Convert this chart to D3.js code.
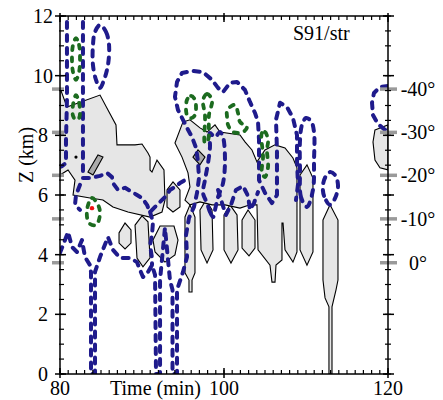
<!DOCTYPE html>
<html><head><meta charset="utf-8">
<script src="https://cdn.jsdelivr.net/npm/d3@7"></script>
<style>
body{margin:0;background:#fff}
svg{display:block}
</style>
</head><body><svg id="c" width="443" height="400" font-family="'Liberation Serif', 'DejaVu Serif', 'Times New Roman', serif"></svg>
<script>
// ---------- axis / label data ----------
const xMajorTicks = [80, 100, 120];
const xMinorTicks = d3.range(80, 121, 1);
const yMajorTicks = [0, 2, 4, 6, 8, 10, 12];
const yMinorTicks = d3.range(0, 12.01, 0.5);
const tempLabels = ["-40°", "-30°", "-20°", "-10°", "0°"];
const tempHeights = [9.55, 8.1, 6.66, 5.2, 3.73];
const panelLabel = "S91/str";

// ---------- gray (filled) regions, [time (min), Z (km)] ----------
const grayLeft = [[80,9.59],[80.85,8.95],[84.88,9.35],[85.85,8.85],[86.83,8.35],[86.95,7.68],[89.15,7.68],[90.0,7.71],[90.73,7.41],[90.98,7.27],[90.98,6.84],[91.22,6.77],[91.83,7.17],[92.68,6.84],[92.80,5.83],[92.44,5.43],[90.98,5.26],[88.29,5.43],[86.46,5.60],[85.24,5.83],[83.66,5.90],[81.59,6.0],[81.83,6.50],[80.98,6.84],[80,6.67]];
const grayRight = [[95.0,8.45],[95.85,8.52],[97.07,8.25],[97.93,8.11],[98.90,8.35],[99.51,8.11],[101.95,8.01],[102.56,7.78],[103.41,7.51],[104.02,7.11],[105.0,7.51],[106.22,7.68],[107.44,7.58],[108.41,7.24],[108.90,6.91],[108.90,4.09],[108.41,3.75],[107.44,4.16],[107.20,5.06],[107.07,5.06],[107.07,3.82],[106.34,3.65],[106.22,3.08],[105.85,3.08],[105.61,3.65],[104.15,4.16],[104.02,5.67],[103.17,5.67],[101.95,5.56],[100.12,5.67],[98.54,5.67],[97.07,5.77],[95.85,5.67],[95.24,5.83],[95.85,6.27],[95.61,6.74],[94.88,7.27],[94.02,7.74]];
const grayCells = [
  [[87.20,4.73],[87.93,5.06],[88.66,4.83],[88.66,4.39],[87.93,4.19],[87.20,4.39]],
  [[89.15,4.99],[90.0,5.30],[90.73,5.10],[90.98,3.89],[90.12,3.59],[89.39,3.89]],
  [[91.34,4.49],[92.20,4.96],[93.90,4.96],[94.39,4.49],[94.02,3.99],[92.80,3.75],[91.59,4.09]],
  [[93.05,6.17],[93.78,6.44],[94.63,6.17],[94.63,5.60],[93.78,5.43],[93.05,5.60]],
  [[95.24,5.26],[95.85,5.67],[96.46,5.26],[96.46,3.39],[96.10,3.15],[96.10,2.75],[95.73,2.75],[95.73,3.15],[95.24,3.39]],
  [[97.07,5.50],[97.80,5.83],[98.54,5.50],[98.66,4.16],[97.93,3.72],[97.20,4.16]],
  [[100.0,5.33],[100.73,5.67],[101.59,5.33],[101.71,4.16],[100.85,3.72],[100.0,4.16]],
  [[102.20,5.16],[102.93,5.50],[103.78,5.16],[103.78,4.22],[103.05,3.96],[102.20,4.22]],
  [[109.27,6.67],[110.12,7.01],[110.85,6.57],[110.85,4.09],[110.12,3.65],[109.27,4.16]],
  [[112.07,5.16],[112.93,5.67],[113.90,5.16],[113.90,3.15],[113.66,2.82],[113.17,2.25],[113.17,0],[112.80,0],[112.80,2.25],[112.32,2.55],[112.07,3.15]],
  [[118.41,8.18],[120,8.35],[120,6.84],[119.02,6.91],[118.41,7.17],[118.17,7.78]]
];
const darkCells = [
  [[83.41,6.77],[84.63,7.34],[85.24,7.27],[84.02,6.67]],
  [[96.22,7.27],[96.83,7.51],[97.68,7.27],[97.07,7.01]]
];
const blackDots = [[81.95,7.27]];
const redDots = [[83.90,5.56]];

// ---------- blue dashed contours ----------
const blueOpen = [
  [[80.85,11.80],[80.85,9.19],[80.73,7.84],[80.73,7.07],[80.24,6.97],[80,6.94]],
  [[82.80,11.80],[82.80,9.19],[82.80,6.57],[83.66,6.57],[84.88,6.64],[85.73,6.74],[86.34,6.60],[86.46,6.40],[87.07,6.17],[87.93,6.24],[88.78,6.10],[89.39,6.0],[90.0,5.90],[90.61,5.67],[90.98,5.43],[91.59,5.60],[92.20,5.77],[93.05,6.0],[93.41,6.17],[94.02,6.27],[94.63,6.40],[95.24,6.50]],
  [[82.44,6.34],[81.95,6.0],[81.83,5.67],[82.44,5.50]],
  [[80,4.06],[80.61,4.49],[80.98,4.76],[81.46,4.26],[82.07,4.09],[82.68,4.49],[83.05,3.92],[83.66,3.65],[83.78,3.42],[83.78,0],[84.27,0],[84.27,3.42],[84.88,3.92],[85.85,4.59],[86.46,4.16],[87.32,3.89],[88.54,3.89],[89.39,3.75],[89.76,3.49],[90.12,3.25],[90.73,3.42],[91.22,3.65],[91.59,3.32],[91.71,0],[92.20,0],[92.20,3.15],[92.80,4.90],[93.41,3.15],[93.72,2.82],[93.72,0],[94.27,0],[94.27,2.82],[95.0,3.42],[95.49,3.92],[95.37,4.66],[95.73,5.23],[96.34,5.60],[96.71,6.07],[96.95,6.57],[96.83,7.11],[96.59,7.58],[96.10,7.94],[95.49,8.25],[95.0,8.52],[94.39,8.85],[94.02,9.29],[94.27,9.79],[94.88,10.09],[96.10,10.16],[97.44,10.12],[98.54,9.86],[99.27,9.59],[99.88,9.45],[100.73,9.76],[101.59,9.79],[102.56,9.52],[103.17,9.12],[103.78,8.75],[104.15,8.45],[104.27,7.84],[104.27,6.50],[105.0,6.07],[105.85,5.73],[106.46,6.0],[106.46,7.51],[106.34,8.52],[106.83,9.09],[107.68,8.95],[108.41,8.58],[108.90,8.01],[108.90,7.17],[109.02,6.34],[108.78,5.83]],
  [[90.98,5.43],[91.34,5.10],[91.22,4.66],[90.98,4.32],[91.22,3.89],[91.22,3.65]],
  [[99.27,6.17],[99.76,5.73],[100.24,5.33],[100.85,5.67],[101.46,6.17],[102.32,6.30],[102.93,5.97],[103.17,5.50],[103.66,5.73],[104.15,6.10]],
  [[120,9.65],[119.02,9.62],[118.29,9.42],[118.05,9.09],[118.17,8.68],[118.78,8.38],[119.51,8.21],[120,8.15]]
];
const blueClosed = [
  [[84.88,11.70],[85.61,11.47],[85.98,11.03],[85.85,10.36],[85.37,9.86],[84.88,9.59],[84.39,9.86],[84.02,10.36],[84.02,11.03],[84.27,11.47]],
  [[98.66,5.26],[98.29,5.43],[97.93,5.73],[97.44,6.07],[97.68,6.50],[98.05,7.07],[98.29,7.61],[98.29,8.08],[98.90,7.94],[99.51,8.11],[99.88,7.94],[100.12,7.17],[99.88,6.40],[99.27,5.93],[98.90,5.50]],
  [[110.12,5.60],[109.39,5.93],[109.27,6.84],[109.27,7.84],[109.51,8.35],[110.0,8.58],[110.61,8.48],[110.98,8.11],[110.98,7.17],[110.85,6.17]],
  [[112.93,5.67],[112.20,5.97],[112.07,6.34],[112.44,6.64],[112.93,6.77],[113.54,6.67],[113.90,6.34],[113.66,5.97]]
];

// ---------- green dashed contours ----------
const greenClosed = [
  [[81.95,11.26],[82.32,11.03],[82.44,10.53],[82.32,10.12],[81.95,9.86],[81.59,10.12],[81.46,10.53],[81.59,11.03]],
  [[81.95,9.35],[82.32,9.09],[82.44,8.78],[82.32,8.58],[81.95,8.52],[81.59,8.65],[81.59,9.02]],
  [[83.29,5.50],[83.90,5.90],[84.63,5.67],[84.88,5.36],[84.39,4.99],[83.54,5.06]],
  [[95.49,9.19],[95.98,9.32],[96.46,9.19],[96.46,8.68],[95.98,8.58],[95.49,8.68]],
  [[97.44,9.19],[97.93,9.39],[98.54,9.19],[98.17,8.68],[98.05,7.84],[97.68,7.74],[97.68,8.68]],
  [[100.37,8.85],[100.73,8.95],[101.34,9.02],[101.71,8.75],[101.95,8.45],[102.80,8.28],[102.32,8.11],[101.10,8.11],[100.49,8.35],[100.37,8.62]],
  [[104.63,8.08],[105.0,8.11],[105.37,7.84],[105.24,7.51],[105.37,6.94],[105.0,6.60],[104.63,6.74],[104.76,7.27]]
];

// ---------- drawing ----------
const svg = d3.select("#c");
const x = d3.scaleLinear().domain([80, 120]).range([60, 388]);
const y = d3.scaleLinear().domain([0, 12]).range([374, 16]);
const openGen = d3.line().x(d => x(d[0])).y(d => y(d[1]));
const closedGen = d3.line().x(d => x(d[0])).y(d => y(d[1])).curve(d3.curveLinearClosed);
const smoothGen = d3.line().x(d => x(d[0])).y(d => y(d[1])).curve(d3.curveCatmullRomClosed.alpha(0.5));

svg.append("defs").append("clipPath").attr("id", "clip")
  .append("rect").attr("x", x(80)).attr("y", y(12)).attr("width", x(120) - x(80)).attr("height", y(0) - y(12));

const plot = svg.append("g").attr("clip-path", "url(#clip)");

const fillStyle = sel => sel.attr("fill", "#e6e6e6").attr("stroke", "#000").attr("stroke-width", 1.1).attr("stroke-linejoin", "miter");
plot.selectAll("path.cell").data(grayCells).join("path").attr("class", "cell").attr("d", closedGen).call(fillStyle);
plot.selectAll("path.main").data([grayLeft, grayRight]).join("path").attr("class", "main").attr("d", closedGen).call(fillStyle);
plot.selectAll("path.dark").data(darkCells).join("path").attr("class", "dark").attr("d", closedGen)
  .attr("fill", "#ababab").attr("stroke", "#000").attr("stroke-width", 1.1);
plot.selectAll("circle.bd").data(blackDots).join("circle").attr("class", "bd")
  .attr("cx", d => x(d[0])).attr("cy", d => y(d[1])).attr("r", 1.6).attr("fill", "#000");

const blueStyle = sel => sel.attr("fill", "none").attr("stroke", "#1f1b8c").attr("stroke-width", 4)
  .attr("stroke-dasharray", "6,7").attr("stroke-linecap", "round").attr("stroke-linejoin", "round");
plot.selectAll("path.bo").data(blueOpen).join("path").attr("class", "bo").attr("d", openGen).call(blueStyle);
plot.selectAll("path.bc").data(blueClosed).join("path").attr("class", "bc").attr("d", smoothGen).call(blueStyle);

plot.selectAll("path.gc").data(greenClosed).join("path").attr("class", "gc").attr("d", smoothGen)
  .attr("fill", "none").attr("stroke", "#1c6b1f").attr("stroke-width", 3.8)
  .attr("stroke-dasharray", "4,7").attr("stroke-linecap", "round").attr("stroke-linejoin", "round");

plot.selectAll("circle.rd").data(redDots).join("circle").attr("class", "rd")
  .attr("cx", d => x(d[0])).attr("cy", d => y(d[1])).attr("r", 2.2).attr("fill", "#ee1111");

// temperature markers (gray) on both sides
const marks = svg.append("g");
marks.selectAll("line.tl").data(tempHeights).join("line").attr("class", "tl")
  .attr("x1", x(80) - 8).attr("x2", x(80) + 4).attr("y1", d => y(d)).attr("y2", d => y(d))
  .attr("stroke", "#9a9a9a").attr("stroke-width", 3.5);
marks.selectAll("line.tr").data(tempHeights).join("line").attr("class", "tr")
  .attr("x1", x(120) - 8).attr("x2", x(120) + 9).attr("y1", d => y(d)).attr("y2", d => y(d))
  .attr("stroke", "#9a9a9a").attr("stroke-width", 3.5);
marks.selectAll("text.tt").data(tempLabels).join("text").attr("class", "tt")
  .attr("x", 418).attr("y", (d, i) => y(tempHeights[i]) + 7).attr("text-anchor", "middle")
  .attr("font-size", 20).attr("fill", "#000").text(d => d);

// frame
const ax = svg.append("g").attr("stroke", "#000").attr("fill", "none");
ax.append("rect").attr("x", x(80)).attr("y", y(12)).attr("width", x(120) - x(80)).attr("height", y(0) - y(12))
  .attr("stroke-width", 1.5);

// x ticks (bottom & top, inward), majors cross the axis
ax.selectAll("line.xbm").data(xMinorTicks).join("line").attr("class", "xbm")
  .attr("x1", d => x(d)).attr("x2", d => x(d)).attr("y1", y(0)).attr("y2", y(0) - 4).attr("stroke-width", 1.2);
ax.selectAll("line.xtm").data(xMinorTicks).join("line").attr("class", "xtm")
  .attr("x1", d => x(d)).attr("x2", d => x(d)).attr("y1", y(12)).attr("y2", y(12) + 4).attr("stroke-width", 1.2);
ax.selectAll("line.xbM").data(xMajorTicks).join("line").attr("class", "xbM")
  .attr("x1", d => x(d)).attr("x2", d => x(d)).attr("y1", y(0) + 4).attr("y2", y(0) - 6).attr("stroke-width", 1.5);
ax.selectAll("line.xtM").data(xMajorTicks).join("line").attr("class", "xtM")
  .attr("x1", d => x(d)).attr("x2", d => x(d)).attr("y1", y(12) - 3).attr("y2", y(12) + 6).attr("stroke-width", 1.5);

// y ticks (left inward, right crossing)
ax.selectAll("line.ylm").data(yMinorTicks).join("line").attr("class", "ylm")
  .attr("x1", x(80) - 1).attr("x2", x(80) + 4).attr("y1", d => y(d)).attr("y2", d => y(d)).attr("stroke-width", 1.2);
ax.selectAll("line.ylM").data(yMajorTicks).join("line").attr("class", "ylM")
  .attr("x1", x(80) - 5).attr("x2", x(80) + 6).attr("y1", d => y(d)).attr("y2", d => y(d)).attr("stroke-width", 1.5);
ax.selectAll("line.yrm").data(yMinorTicks).join("line").attr("class", "yrm")
  .attr("x1", x(120) - 3).attr("x2", x(120) + 3).attr("y1", d => y(d)).attr("y2", d => y(d)).attr("stroke-width", 1.2);
ax.selectAll("line.yrM").data(yMajorTicks).join("line").attr("class", "yrM")
  .attr("x1", x(120) - 5).attr("x2", x(120) + 6).attr("y1", d => y(d)).attr("y2", d => y(d)).attr("stroke-width", 1.5);

// tick labels
const lab = svg.append("g").attr("font-size", 20).attr("fill", "#000");
lab.selectAll("text.xl").data(xMajorTicks).join("text").attr("class", "xl")
  .attr("x", d => x(d)).attr("y", 395).attr("text-anchor", "middle").text(d => d);
lab.selectAll("text.yl").data(yMajorTicks).join("text").attr("class", "yl")
  .attr("x", 43).attr("y", d => y(d) + 7).attr("text-anchor", "middle").text(d => d);

// axis titles
lab.append("text").attr("x", 110).attr("y", 395).text("Time (min)");
lab.append("text").attr("transform", "translate(33,155) rotate(-90)").attr("text-anchor", "middle").text("Z (km)");
lab.append("text").attr("x", 293).attr("y", 40).text(panelLabel);
</script></body></html>
